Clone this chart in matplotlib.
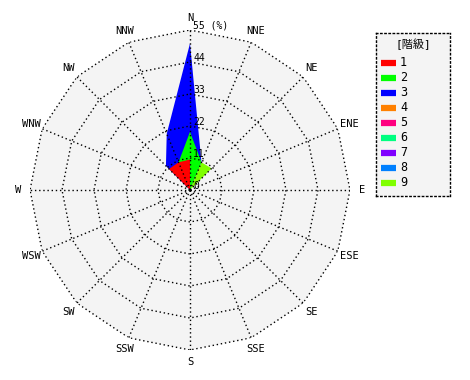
import numpy as np
import matplotlib
matplotlib.use("Agg")
import matplotlib.pyplot as plt

plt.rcParams["font.family"] = ["DejaVu Sans Mono", "Noto Sans CJK JP"]

# 16 wind directions, clockwise from north
directions = ["N", "NNE", "NE", "ENE", "E", "ESE", "SE", "SSE",
              "S", "SSW", "SW", "WSW", "W", "WNW", "NW", "NNW"]

# frequency (%) per direction for each class
class_1 = [10.5, 0, 0, 0, 0, 0, 0, 0, 0, 0, 0, 0, 0, 0, 10.2, 10.3]
class_2 = [20.0, 10.3, 0, 0, 0, 0, 0, 0, 0, 0, 0, 0, 0, 0, 0, 10.3]
class_3 = [50.4, 10.3, 0, 0, 0, 0, 0, 0, 0, 0, 0, 0, 0, 0, 11.7, 20.9]
class_4 = [0] * 16
class_5 = [0] * 16
class_6 = [0] * 16
class_7 = [0] * 16
class_8 = [0] * 16
class_9 = [0, 10.3, 10.5, 0, 0, 0, 0, 0, 0, 0, 0, 0, 0, 0, 0, 0]

class_labels = ["1", "2", "3", "4", "5", "6", "7", "8", "9"]
class_colors = ["#ff0000", "#00ff00", "#0000ff", "#ff8000", "#ff0080",
                "#00ff80", "#8000ff", "#0080ff", "#80ff00"]
ring_values = [11, 22, 33, 44, 55]
rmax = 55

fig = plt.figure(figsize=(4.7, 3.8), dpi=100)
ax = fig.add_axes([30 / 470, 30 / 380, 320 / 470, 320 / 380], projection="polar")
ax.set_theta_zero_location("N")
ax.set_theta_direction(-1)
ax.set_ylim(0, rmax)
ax.grid(False)
ax.set_xticks([])
ax.set_yticks([])
ax.spines["polar"].set_visible(False)
ax.patch.set_visible(False)

theta = np.deg2rad(np.arange(16) * 22.5)
theta_c = np.append(theta, theta[0])

# background polygon
ax.fill(theta_c, [rmax] * 17, color="#f4f4f4", zorder=0, lw=0)

# class polygons (drawn largest first)
series = [class_1, class_2, class_3, class_4, class_5, class_6, class_7, class_8, class_9]
for idx in [2, 1, 0, 3, 4, 5, 6, 7, 8]:
    vals = series[idx]
    if max(vals) == 0:
        continue
    ax.fill(theta_c, vals + [vals[0]], color=class_colors[idx], lw=0, zorder=2)

# grid: dotted polygons and spokes
dot = (0, (1, 2))
for r in ring_values:
    ax.plot(theta_c, [r] * 17, color="black", lw=1, ls=dot, zorder=3)
for t in theta:
    ax.plot([t, t], [0, rmax], color="black", lw=1, ls=dot, zorder=3)

# ring labels along north axis
ax.annotate("0", xy=(0, 0), xytext=(3, -1), textcoords="offset pixels",
            ha="left", va="bottom", fontsize=7, zorder=4)
for r in ring_values:
    txt = f"{r}" if r < rmax else f"{r} (%)"
    ax.annotate(txt, xy=(0, r), xytext=(3, -1), textcoords="offset pixels",
                ha="left", va="bottom", fontsize=7, zorder=4)

# direction labels
for t, d in zip(theta, directions):
    ax.text(t, rmax * 1.075, d, ha="center", va="center", fontsize=7.5)

# legend box
lax = fig.add_axes([376 / 470, (380 - 196) / 380, 74 / 470, 163 / 380])
lax.set_xlim(0, 74)
lax.set_ylim(163, 0)
lax.set_xticks([])
lax.set_yticks([])
lax.set_facecolor("#f4f4f4")
for s in lax.spines.values():
    s.set_linestyle(dot)
    s.set_linewidth(1)
lax.text(37, 11, "[階級]", ha="center", va="center", fontsize=8)
for i, (lab, col) in enumerate(zip(class_labels, class_colors)):
    y = 29.5 + i * 15
    lax.plot([5, 20], [y, y], color=col, lw=4.5, solid_capstyle="butt")
    lax.text(24, y, lab, ha="left", va="center", fontsize=8.5)

fig.savefig("out.png", dpi=100)
